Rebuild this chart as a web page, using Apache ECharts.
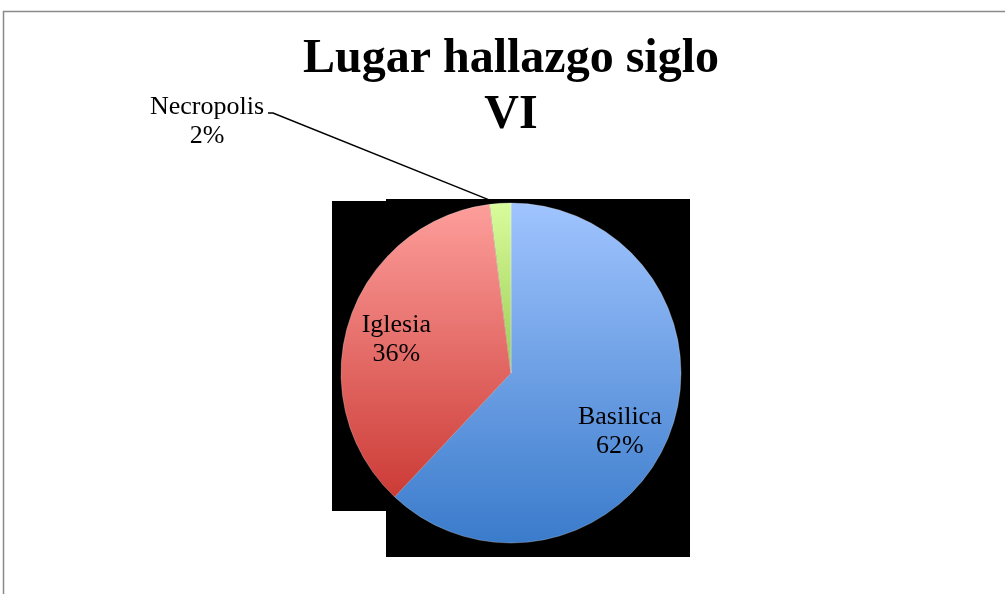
<!DOCTYPE html>
<html>
<head>
<meta charset="utf-8">
<script src="https://cdn.jsdelivr.net/npm/echarts@6/dist/echarts.min.js"></script>
<style>
  html, body { margin: 0; padding: 0; background: #fff; }
  #chart { width: 1005px; height: 594px; }
</style>
</head>
<body>
<div id="chart"></div>
<script>
const categories = ["Basilica", "Iglesia", "Necropolis"];
const shares = [62, 36, 2];
const topColors = ["#a0c4fe", "#fd9e9b", "#d9fc9c"];
const bottomColors = ["#3a7bcb", "#cc3b36", "#9bcb52"];

const serif = "'Liberation Serif', 'DejaVu Serif', serif";
const chart = echarts.init(document.getElementById("chart"));

const data = categories.map((name, i) => {
  const item = {
    name,
    value: shares[i],
    itemStyle: {
      color: new echarts.graphic.LinearGradient(0, 0, 0, 1, [
        { offset: 0, color: topColors[i] },
        { offset: 1, color: bottomColors[i] }
      ])
    }
  };
  if (name === "Necropolis") {
    item.label = { position: "outside" };
    item.labelLine = { show: true, length: 20, length2: 10 };
  }
  return item;
});

// nudges to match where the original placed the inside labels
const labelNudge = { Basilica: [27, 26], Iglesia: [-31, -6] };

chart.setOption({
  animation: false,
  title: {
    text: "Lugar hallazgo siglo\nVI",
    left: 511,
    top: 32,
    padding: 0,
    textAlign: "center",
    textStyle: { fontFamily: serif, fontSize: 48, fontWeight: "bold", lineHeight: 56, color: "#000" }
  },
  graphic: [
    { type: "rect", z: 0, shape: { x: 3.5, y: 11.5, width: 1010, height: 600 }, style: { fill: "none", stroke: "#8a8a8a", lineWidth: 1.5 } },
    { type: "rect", z: 0, shape: { x: 332, y: 201, width: 100, height: 310 }, style: { fill: "#000" } },
    { type: "rect", z: 0, shape: { x: 386, y: 199, width: 304, height: 358 }, style: { fill: "#000" } }
  ],
  series: [{
    type: "pie",
    z: 2,
    center: [511, 373],
    radius: 170,
    startAngle: 90,
    clockwise: true,
    data,
    itemStyle: { borderColor: "rgba(255,255,255,0.45)", borderWidth: 0.6 },
    label: {
      show: true,
      position: "inside",
      formatter: "{b}\n{d}%",
      fontFamily: serif,
      fontSize: 26,
      lineHeight: 29,
      color: "#000",
      align: "center"
    },
    labelLine: { show: false, lineStyle: { color: "#000", width: 1.5 } },
    labelLayout: params => {
      const name = categories[params.dataIndex];
      if (name === "Necropolis") {
        const start = params.labelLinePoints ? params.labelLinePoints[0] : [490, 200];
        return {
          x: 207, y: 122, align: "center", verticalAlign: "middle",
          labelLinePoints: [[start[0] - 10, start[1] - 3], [273, 113], [268, 113]]
        };
      }
      const nudge = labelNudge[name];
      return { dx: nudge[0], dy: nudge[1] };
    }
  }]
});
</script>
</body>
</html>
